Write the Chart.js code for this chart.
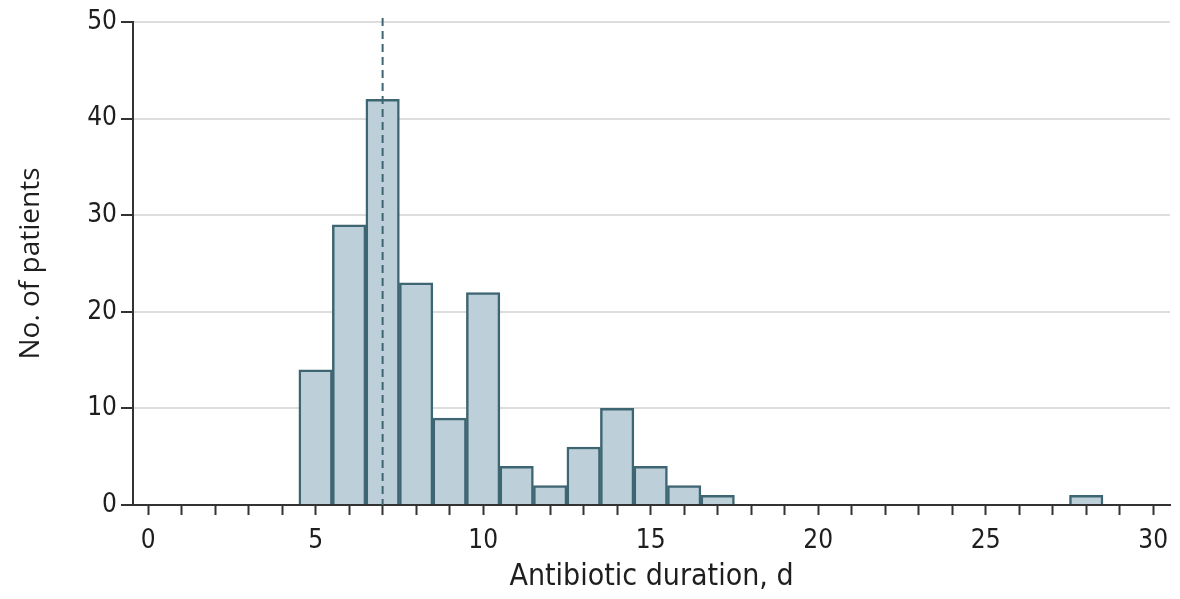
<!DOCTYPE html>
<html>
<head>
<meta charset="utf-8">
<script src="https://cdn.jsdelivr.net/npm/chart.js@4.4.0/dist/chart.umd.min.js"></script>
<style>
  html, body { margin: 0; padding: 0; background: #fff; }
  #wrap { width: 1180px; height: 599px; position: relative; }
</style>
</head>
<body>
<div id="wrap"><canvas id="histChart"></canvas></div>
<script>
// antibiotic duration (days) and patient counts per day
const durationDays = [5, 6, 7, 8, 9, 10, 11, 12, 13, 14, 15, 16, 17, 28];
const patientCounts = [14, 29, 42, 23, 9, 22, 4, 2, 6, 10, 4, 2, 1, 1];
const medianDays = 7;
const yTicks = [0, 10, 20, 30, 40, 50];

const axisColor = '#333333';
const barFill = '#bdd0d9';
const barEdge = '#3e6672';

const medianLine = {
  id: 'medianLine',
  afterDatasetsDraw(chart) {
    const { ctx, scales } = chart;
    const x = scales.x.getPixelForValue(medianDays);
    ctx.save();
    ctx.strokeStyle = barEdge;
    ctx.lineWidth = 2;
    ctx.setLineDash([8, 5]);
    ctx.beginPath();
    ctx.moveTo(x, scales.y.getPixelForValue(50) - 4);
    ctx.lineTo(x, scales.y.getPixelForValue(0));
    ctx.stroke();
    ctx.restore();
  }
};

const narrow = '"DejaVu Sans Condensed", "Liberation Sans Narrow", sans-serif';
const tickFont = { family: narrow, size: 26 };

new Chart(document.getElementById('histChart'), {
  type: 'bar',
  data: {
    datasets: [{
      data: durationDays.map((d, i) => ({ x: d, y: patientCounts[i] })),
      backgroundColor: barFill,
      borderColor: barEdge,
      borderWidth: 2.5,
      barPercentage: 1,
      categoryPercentage: 1
    }]
  },
  options: {
    responsive: true,
    maintainAspectRatio: false,
    animation: false,
    layout: { padding: { top: 22, right: 10, left: 0, bottom: 0 } },
    plugins: { legend: { display: false }, tooltip: { enabled: false } },
    scales: {
      x: {
        type: 'linear',
        offset: false,
        min: -0.45,
        max: 30.5,
        afterBuildTicks(scale) {
          const t = [];
          for (let v = 0; v <= 30; v++) t.push({ value: v });
          scale.ticks = t;
        },
        afterFit(scale) { scale.height = 94; },
        grid: { offset: false, drawOnChartArea: false, drawTicks: true, tickLength: 10, tickColor: axisColor, tickWidth: 2 },
        border: { color: axisColor, width: 2 },
        ticks: {
          autoSkip: false,
          maxRotation: 0,
          color: '#1e1e1e',
          font: tickFont,
          padding: 11,
          callback: v => (v % 5 === 0 ? String(v) : '')
        },
        title: {
          display: true,
          text: 'Antibiotic duration, d',
          color: '#1e1e1e',
          font: { family: narrow, size: 30 },
          padding: { top: 4 }
        }
      },
      y: {
        min: 0,
        max: 50,
        afterBuildTicks(scale) { scale.ticks = yTicks.map(v => ({ value: v })); },
        afterFit(scale) { scale.width = 133; },
        grid: { color: '#dddddd', lineWidth: 2, tickLength: 12, tickColor: axisColor, tickWidth: 2 },
        border: { color: axisColor, width: 2 },
        ticks: { color: '#1e1e1e', font: tickFont, padding: 4 },
        title: {
          display: true,
          text: 'No. of patients',
          color: '#1e1e1e',
          font: { family: '"Open Sans", "Liberation Sans", sans-serif', size: 28 },
          padding: { bottom: 0, top: 14 }
        }
      }
    }
  },
  plugins: [medianLine]
});
</script>
</body>
</html>
